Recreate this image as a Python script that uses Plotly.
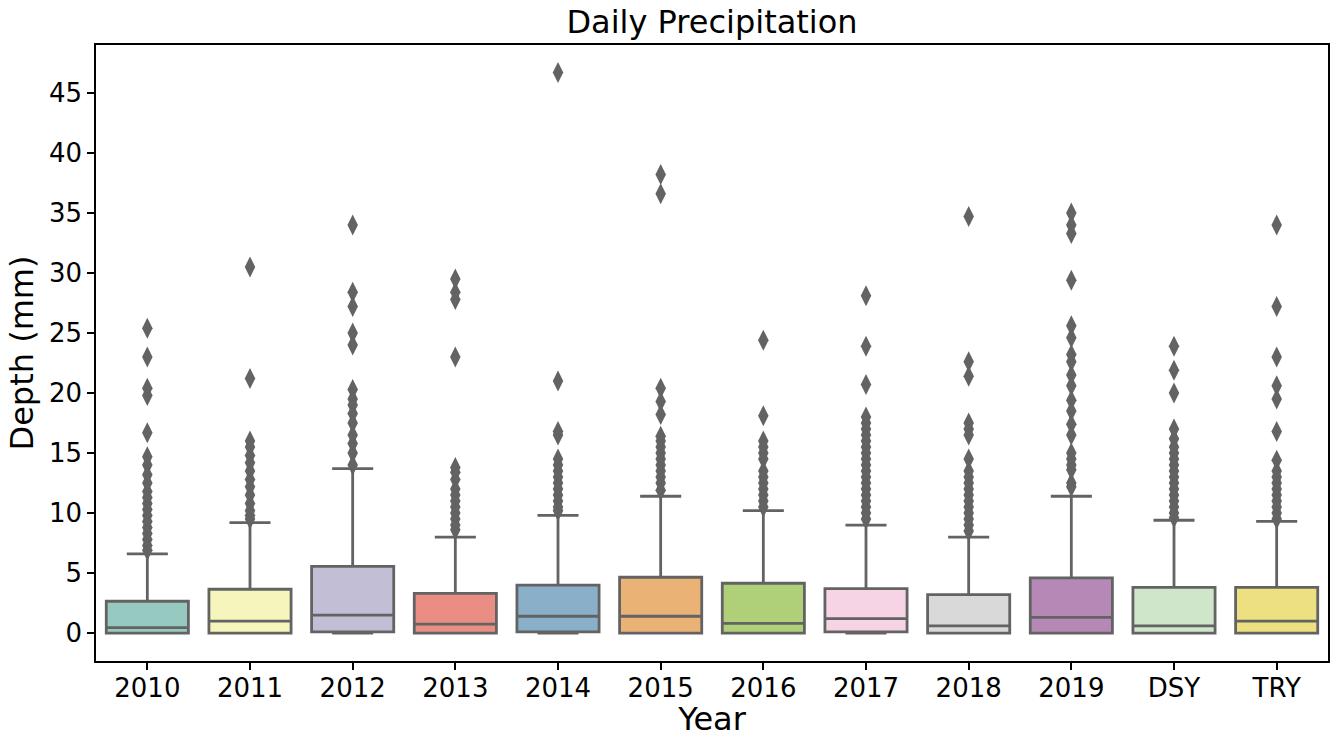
import colorsys
import plotly.graph_objects as go

categories = ["2010", "2011", "2012", "2013", "2014", "2015", "2016", "2017", "2018", "2019", "DSY", "TRY"]
q1 = [0.0, 0.0, 0.1, 0.0, 0.1, 0.0, 0.0, 0.1, 0.0, 0.0, 0.0, 0.0]
median = [0.45, 1.0, 1.5, 0.75, 1.4, 1.4, 0.8, 1.2, 0.6, 1.3, 0.6, 1.0]
q3 = [2.65, 3.65, 5.55, 3.3, 4.0, 4.65, 4.15, 3.7, 3.2, 4.6, 3.8, 3.8]
lowerfence = [0.0, 0.0, 0.0, 0.0, 0.0, 0.0, 0.0, 0.0, 0.0, 0.0, 0.0, 0.0]
upperfence = [6.6, 9.2, 13.7, 8.0, 9.8, 11.4, 10.2, 9.0, 8.0, 11.4, 9.4, 9.3]

outliers = {
    "2010": [25.4, 23.0, 20.4, 19.8, 16.7, 14.7, 14.0, 13.2, 12.5, 11.8, 11.3, 10.8, 10.3, 9.8, 9.3, 8.8, 8.3, 7.8, 7.3, 6.9],
    "2011": [30.5, 21.2, 16.0, 15.5, 14.8, 14.2, 13.5, 12.8, 12.2, 11.5, 10.8, 10.2, 9.8, 9.5],
    "2012": [34.0, 28.4, 27.2, 25.0, 24.0, 20.3, 19.5, 19.0, 18.3, 17.5, 16.5, 15.8, 15.0, 14.0],
    "2013": [29.5, 28.4, 27.8, 23.0, 13.8, 13.4, 12.8, 12.0, 11.5, 11.0, 10.5, 10.0, 9.5, 9.0, 8.6],
    "2014": [46.7, 21.0, 16.8, 16.5, 14.5, 14.0, 13.5, 13.0, 12.5, 12.0, 11.5, 11.0, 10.5, 10.2],
    "2015": [38.2, 36.6, 20.4, 19.3, 18.2, 16.4, 16.0, 15.5, 15.0, 14.5, 14.0, 13.5, 13.0, 12.5, 11.9],
    "2016": [24.4, 18.1, 16.0, 15.5, 15.0, 14.5, 13.5, 13.0, 12.5, 12.0, 11.5, 11.0, 10.5],
    "2017": [28.1, 23.9, 20.7, 18.0, 17.5, 17.0, 16.5, 16.0, 15.5, 15.0, 14.5, 14.0, 13.5, 13.0, 12.5, 12.0, 11.5, 11.0, 10.5, 10.0, 9.5],
    "2018": [34.7, 22.6, 21.4, 17.5, 17.0, 16.5, 14.5, 13.5, 13.0, 12.5, 12.0, 11.5, 11.0, 10.5, 10.0, 9.5, 9.0, 8.5],
    "2019": [35.0, 34.0, 33.3, 29.4, 25.6, 24.6, 23.2, 22.6, 21.5, 20.6, 19.4, 18.5, 17.4, 16.5, 15.0, 14.5, 14.0, 13.6, 12.5, 12.2],
    "DSY": [23.9, 21.9, 20.0, 17.0, 16.2, 15.5, 15.0, 14.5, 14.0, 13.5, 13.0, 12.5, 12.0, 11.5, 11.0, 10.5, 10.0, 9.6],
    "TRY": [34.0, 27.2, 23.0, 20.6, 19.5, 16.8, 14.4, 13.5, 13.0, 12.5, 12.0, 11.5, 11.0, 10.5, 10.0, 9.5],
}

set3 = ["#8dd3c7", "#ffffb3", "#bebada", "#fb8072", "#80b1d3", "#fdb462",
        "#b3de69", "#fccde5", "#d9d9d9", "#bc80bd", "#ccebc5", "#ffed6f"]


def desat(hexc, prop=0.75):
    r, g, b = (int(hexc[i:i + 2], 16) / 255 for i in (1, 3, 5))
    h, l, s = colorsys.rgb_to_hls(r, g, b)
    r, g, b = colorsys.hls_to_rgb(h, l, s * prop)
    return "#%02x%02x%02x" % (round(r * 255), round(g * 255), round(b * 255))


LINE = "#636363"
FONT = "DejaVu Sans"

fig = go.Figure()
for i, c in enumerate(categories):
    fig.add_trace(go.Box(
        x=[c], q1=[q1[i]], median=[median[i]], q3=[q3[i]],
        lowerfence=[lowerfence[i]], upperfence=[upperfence[i]],
        fillcolor=desat(set3[i]), line=dict(color=LINE, width=2.8),
        width=0.8, whiskerwidth=0.5, boxpoints=False, showlegend=False,
        hoverinfo="y",
    ))

ox, oy = [], []
for c in categories:
    for v in outliers[c]:
        ox.append(c)
        oy.append(v)
fig.add_trace(go.Scatter(
    x=ox, y=oy, mode="markers",
    marker=dict(symbol="diamond-tall", size=15, color=LINE, line=dict(width=0)),
    showlegend=False,
))

fig.update_layout(
    width=1335, height=738,
    margin=dict(l=96, r=7, t=45, b=77),
    paper_bgcolor="white", plot_bgcolor="white",
    boxmode="overlay",
    font=dict(family=FONT, color="black", size=26),
    title=dict(text="Daily Precipitation", x=0.5, xanchor="center", y=0.97, yanchor="middle",
               xref="paper", font=dict(size=32, family=FONT)),
)
fig.update_xaxes(
    type="category", categoryorder="array", categoryarray=categories,
    range=[-0.5, 11.5], automargin=False,
    showline=True, linecolor="black", linewidth=1.5, mirror=True,
    ticks="outside", ticklen=7, tickwidth=1.5, tickcolor="black",
    ticklabelstandoff=-4,
    showgrid=False, zeroline=False,
    title=dict(text="Year", font=dict(size=32, family=FONT), standoff=8),
    tickfont=dict(size=26),
)
fig.update_yaxes(
    range=[-2.33, 49.0], automargin=False,
    tickvals=[0, 5, 10, 15, 20, 25, 30, 35, 40, 45],
    showline=True, linecolor="black", linewidth=1.5, mirror=True,
    ticks="outside", ticklen=7, tickwidth=1.5, tickcolor="black",
    showgrid=False, zeroline=False,
    title=dict(text="Depth (mm)", font=dict(size=32, family=FONT), standoff=6),
    tickfont=dict(size=26),
)

fig.write_html("out.html")
